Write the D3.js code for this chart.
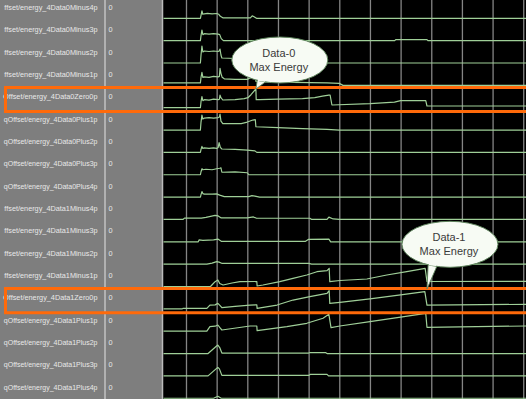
<!DOCTYPE html>
<html><head><meta charset="utf-8">
<script src="https://cdn.jsdelivr.net/npm/d3@7"></script>
<style>body{margin:0;background:#000;overflow:hidden}svg{display:block}</style>
</head><body>
<svg id="c" width="526" height="399"></svg>
<script>
// ---- data ----
const signals = ["Data0Minus4p","Data0Minus3p","Data0Minus2p","Data0Minus1p","Data0Zero0p",
  "Data0Plus1p","Data0Plus2p","Data0Plus3p","Data0Plus4p",
  "Data1Minus4p","Data1Minus3p","Data1Minus2p","Data1Minus1p","Data1Zero0p",
  "Data1Plus1p","Data1Plus2p","Data1Plus3p","Data1Plus4p"];
// visible (left-truncated) part of each signal path
const signalPrefix = ["ffset/","ffset/","ffset/","ffset/","Offset/",
  "qOffset/","qOffset/","qOffset/","qOffset/",
  "ffset/","ffset/","ffset/","ffset/","Offset/",
  "qOffset/","qOffset/","qOffset/","qOffset/"];
const signalStem = "energy_4";
const cursorValues = ["0","0","0","0","0","0","0","0","0","0","0","0","0","0","0","0","0","0"];
const timeTicks = [100,200,300,400,500,600,700,800,900,1000,1100,1200];
const highlightRows = [4, 13];

// [time, energy]
const d0m4 = [[25,0],[147,0],[149,3],[152,7.5],[155,4],[160,4.5],[170,5],[185,4.5],[200,4.8],[207,4],[212,2],[220,0.5],[310,0.5],[316,2.5],[322,1.5],[330,0],[1209,0]];
const d0m3 = [[25,0],[147,0],[149,5],[152,10.5],[155,6],[160,7],[175,6.5],[190,7],[205,6.5],[210,6],[215,2],[222,0],[781,0],[784,1],[886,1],[889,0],[1209,0]];
const d0m2 = [[25,0],[147,0],[149,8],[152,17],[155,11],[160,12],[175,11.5],[190,12],[205,11.5],[208,12],[211,14],[214,8],[217,5],[260,4.5],[350,4],[450,2],[540,0],[1209,0]];
const d0m1 = [[25,2.5],[147,2.5],[149,8],[152,13],[155,8],[160,8.5],[175,8],[190,9],[205,8.5],[209,9],[211,17],[214,12],[218,8],[225,6.5],[260,6],[300,6],[318,9],[326,10],[328,4],[340,3.5],[450,3],[560,2.5],[600,2],[612,0],[1209,0]];
const d0z0 = [[25,0],[147,0],[149,6],[152,11],[155,7],[160,8],[175,7.5],[190,8.5],[205,8],[209,8.5],[211,12.5],[214,10],[220,7.7],[260,8],[290,9],[302,10],[312,13],[328,18.7],[329,8],[340,8],[400,8.5],[480,9],[520,10],[545,11.5],[566,12.5],[570,12.7],[576,2.7],[700,4],[780,5.5],[800,7],[882,7],[886,1.7],[1209,1.7]];
const d0p1 = [[25,0],[147,0],[149,8],[152,15],[155,11],[160,12],[175,12.5],[190,12],[205,12.5],[209,13],[211,16],[214,9],[220,6.5],[280,6.5],[300,8],[318,10],[326,10.5],[328,3.3],[400,2.5],[480,1.5],[560,0.7],[600,0],[1209,0]];
const d0p2 = [[25,0],[147,0],[149,3],[152,6],[155,4],[160,4.5],[175,4],[190,4.5],[200,4],[205,5],[208,9.7],[212,5],[217,3.4],[260,3],[300,2.2],[325,1.5],[331,0],[1209,0]];
const d0p3 = [[25,0],[147,0],[149,3],[152,6],[155,5],[165,5.5],[185,5],[200,6],[210,6.5],[214,7],[217,2.5],[260,2.8],[300,2],[305,0],[1209,0]];
const d0p4 = [[25,0],[147,0],[149,2.5],[152,5.5],[155,3.5],[160,3],[185,3],[200,3.2],[210,2],[225,0.5],[305,0.5],[315,1.5],[325,1],[340,0],[1209,0]];
const d1m4 = [[25,0],[90,0],[95,1.3],[150,1.3],[165,2],[195,4],[205,3.5],[215,1.5],[300,1.5],[320,2.5],[330,1.2],[504,1.2],[510,0],[560,0],[566,2.3],[580,0.5],[600,0],[1209,0]];
const d1m3 = [[25,0],[140,0],[143,2],[155,1.5],[190,2],[204,2.7],[215,0.5],[490,0.5],[500,2.5],[566,2.7],[572,0],[1209,0]];
const d1m2 = [[25,0],[168,0],[185,1],[200,2.5],[208,2],[218,0.7],[500,0.7],[510,0],[1209,0]];
const d1m1 = [[25,0],[180,0],[186,2],[195,4.8],[204,6.5],[210,3],[221,1.5],[250,3.5],[276,4.8],[331,5],[332,0.5],[351,1.5],[406,4.8],[449,8.2],[494,11.5],[527,14.8],[560,15.8],[567,18.2],[569,4.8],[602,6],[690,7.5],[755,11.5],[820,14.8],[880,18.2],[886,5],[1209,5.2]];
const d1z0 = [[25,0],[88,0],[90,0.5],[168,0.5],[178,3.8],[195,4],[204,5.5],[212,3],[217,1.2],[260,2.5],[309,3.8],[331,4],[332,0.5],[397,3.8],[449,8.8],[504,12.2],[560,15.5],[567,18.2],[569,5.5],[602,6.5],[700,10],[800,14],[879,17.2],[886,3.8],[1209,4.5]];
const d1p1 = [[25,0],[168,0],[178,4.5],[195,5],[204,6.2],[212,3],[217,1.2],[309,5.2],[331,5.2],[332,0.5],[429,4.5],[494,7.9],[547,12.9],[566,16.9],[573,3.5],[602,5.2],[700,9.5],[800,14],[882,17.9],[886,3.9],[1209,5.2]];
const d1p2 = [[25,0],[172,0],[185,3.5],[198,7],[204,8.5],[210,6],[217,0.5],[500,0.5],[505,1],[555,1],[560,0],[1209,0]];
const d1p3 = [[25,0],[172,0],[185,3.5],[198,7],[204,8.5],[209,7],[217,0.5],[500,0.5],[505,1.5],[560,1.5],[565,0],[1209,0]];
const d1p4 = [[25,0],[190,0],[204,2],[215,0],[1209,0]];
const traces = [d0m4,d0m3,d0m2,d0m1,d0z0,d0p1,d0p2,d0p3,d0p4,d1m4,d1m3,d1m2,d1m1,d1z0,d1p1,d1p2,d1p3,d1p4];

const calloutText = [["Data-0","Max Energy"],["Data-1","Max Energy"]];
const calloutTarget = [[328, 4, 18.7],[886, 13, 19.8]]; // time, row, energy

// ---- drawing ----
const W = 526, H = 399;
const svg = d3.select("#c");
const x = d3.scaleLinear().domain([25,1209]).range([163,526]);
const rowY = d3.scaleLinear().domain([0,17]).range([18.3,398.25]);
const amp = d3.scaleLinear().domain([0,20]).range([0,20]);

svg.append("rect").attr("x",0).attr("y",0).attr("width",W).attr("height",H).attr("fill","#000");
// left panels
svg.append("rect").attr("x",0).attr("y",0).attr("width",162).attr("height",H).attr("fill","#7e7e7e");
svg.append("line").attr("x1",105).attr("x2",105).attr("y1",0).attr("y2",H).attr("stroke","#e4e4e4").attr("stroke-width",1);
svg.append("line").attr("x1",162.5).attr("x2",162.5).attr("y1",0).attr("y2",H).attr("stroke","#bcbcbc").attr("stroke-width",1.5);

const defs = svg.append("defs");
defs.append("clipPath").attr("id","plotClip").append("rect").attr("x",163.5).attr("y",0).attr("width",W-163).attr("height",H);

svg.append("g").selectAll("text").data(signals).join("text")
  .attr("x",97.5).attr("y",(d,i)=>rowY(i)-11).attr("dy","0.35em")
  .attr("text-anchor","end").attr("font-family","Liberation Sans, Arial, sans-serif")
  .attr("font-size",(d,i)=>signalPrefix[i].startsWith("q") ? 7.0 : 7.3)
  .attr("fill","#e8e8e8").text((d,i)=>signalPrefix[i]+signalStem+d);
svg.append("g").selectAll("text").data(cursorValues).join("text")
  .attr("x",108.5).attr("y",(d,i)=>rowY(i)-11).attr("dy","0.35em")
  .attr("font-family","Liberation Sans, Arial, sans-serif")
  .attr("font-size",7.3).attr("fill","#e8e8e8").text(d=>d);

// grid via axis
const grid = svg.append("g").attr("transform",`translate(0,${H})`)
  .call(d3.axisTop(x).tickValues(timeTicks).tickSize(H).tickFormat(""));
grid.select(".domain").remove();
grid.selectAll(".tick line").attr("stroke","#858585").attr("stroke-width",1.3);

// traces
const plot = svg.append("g").attr("clip-path","url(#plotClip)");
traces.forEach((tr,i)=>{
  const line = d3.line().x(d=>x(d[0])).y(d=>rowY(i)-amp(d[1]));
  plot.append("path").attr("d",line(tr)).attr("fill","none")
    .attr("stroke","#9fcf98").attr("stroke-width",1.2).attr("stroke-linejoin","round");
});

// highlight boxes
highlightRows.forEach(r=>{
  const top = rowY(r)-20.3, bot = rowY(r)+3.8;
  svg.append("path").attr("d",`M${W+5},${top}H5.5V${bot}H${W+5}`)
    .attr("fill","none").attr("stroke","#ff6a0a").attr("stroke-width",3);
});

// callouts
const calloutCenter = [[406, 2, 3],[961, 10, -2.5]]; // time, row, energy offset
calloutText.forEach((lines,k)=>{
  const [ct, cr, ce] = calloutCenter[k];
  const cx = x(ct), cy = rowY(cr)-amp(ce);
  const [tt, tr, te] = calloutTarget[k];
  const tx = x(tt), ty = rowY(tr)-amp(te);
  const rx = 48, ry = 23;
  const bx = tx + (cx-tx)*0.18, by = cy + ry*0.93;
  svg.append("path").attr("d",`M${tx},${ty}L${bx-3},${by-1}L${bx+6},${by}Z`)
    .attr("fill","#f7fbf4").attr("stroke","#5e845c").attr("stroke-width",0.9);
  svg.append("ellipse").attr("cx",cx).attr("cy",cy).attr("rx",rx).attr("ry",ry)
    .attr("fill","#f7fbf4").attr("stroke","#5e845c").attr("stroke-width",1);
  svg.append("path").attr("d",`M${bx-2.2},${by-1.6}L${bx+5},${by-0.8}`)
    .attr("stroke","#f7fbf4").attr("stroke-width",2.2);
  svg.selectAll(null).data(lines).join("text")
    .attr("x",cx-1).attr("y",(d,j)=>cy-7+j*14).attr("dy","0.35em")
    .attr("text-anchor","middle").attr("font-family","Liberation Sans, Arial, sans-serif")
    .attr("font-size",11).attr("fill","#3a3a3a").text(d=>d);
});
</script>
</body></html>
